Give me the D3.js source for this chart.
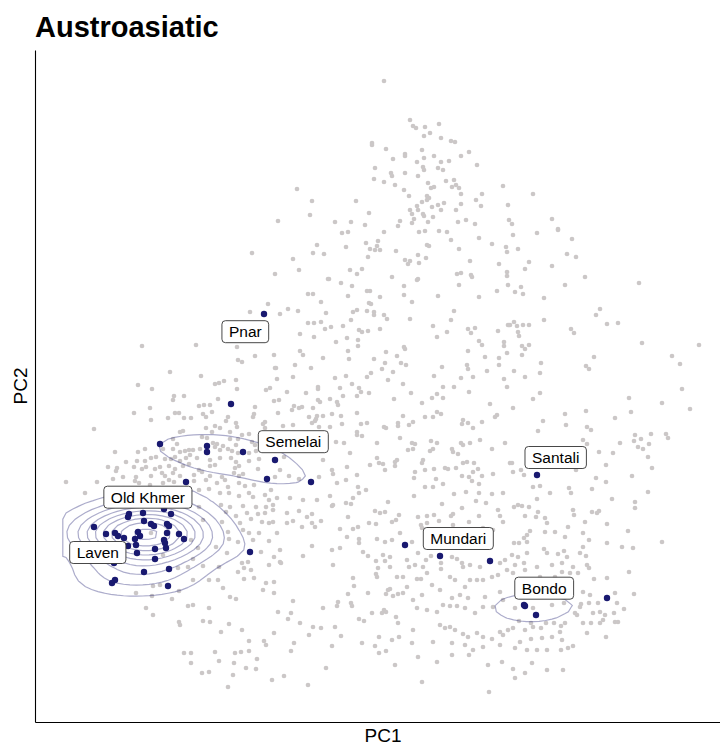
<!DOCTYPE html>
<html><head><meta charset="utf-8">
<script src="https://cdn.jsdelivr.net/npm/d3@7"></script>
<style>body{margin:0;background:#fff}svg{display:block}text{font-family:"Liberation Sans",Arial,Helvetica,sans-serif}</style>
</head><body><div id="chart"></div>
<script>
// ---------- data (PC1, PC2 in arbitrary units) ----------
const chartTitle = "Austroasiatic";
const xTitle = "PC1", yTitle = "PC2";
const pc1Domain = [0, 696];
const pc2Domain = [0, 672];

// other languages (grey background points)
const background = [
[349,641],[375,602],[378,596],[381,594],[390,595],[404,598],[389,586],[395,589],[406,584],[416,581],[420,580],[337,579],[337,577],[351,573],[387,572],[370,568],[370,566],[399,566],[389,564],[358,563],[382,560],[406,560],[414,561],[426,566],[434,570],[442,557],[340,554],[388,555],[389,552],[403,554],[408,552],[356,549],[357,546],[370,549],[383,546],[339,543],[349,540],[360,537],[393,539],[411,541],[419,542],[417,535],[421,537],[424,534],[396,534],[399,535],[369,532],[262,533],[468,536],[426,528],[374,526],[392,526],[392,522],[394,524],[387,520],[447,528],[441,522],[446,516],[277,521],[321,521],[382,516],[383,512],[375,512],[397,515],[403,517],[409,519],[426,518],[421,512],[406,512],[377,508],[388,508],[389,506],[398,505],[379,503],[377,499],[393,500],[275,507],[334,509],[243,501],[300,500],[316,500],[330,497],[365,501],[363,496],[423,500],[431,502],[440,498],[473,517],[474,502],[307,489],[313,490],[349,490],[384,490],[390,491],[404,491],[412,490],[444,484],[416,482],[282,477],[311,475],[331,479],[343,481],[392,477],[394,476],[457,478],[471,475],[472,470],[335,473],[340,472],[342,476],[345,472],[361,471],[424,473],[278,469],[289,468],[333,465],[383,467],[391,464],[258,463],[370,462],[375,461],[373,458],[384,459],[435,461],[464,458],[264,452],[315,452],[327,453],[322,448],[240,448],[357,445],[294,443],[383,443],[422,448],[426,449],[436,447],[437,445],[472,450],[472,446],
[498,528],[517,503],[523,493],[477,498],[217,469],
[233,418],[215,410],[107,376],[161,377],[202,375],[203,362],[207,360],[220,366],[239,367],[240,354],[135,350],[166,346],[103,337],[117,333],[180,338],[184,339],[189,341],[201,342],[202,333],[231,332],[235,334],[139,326],[149,326],[138,322],[183,323],[239,321],[99,309],[115,314],[164,316],[169,317],[175,317],[168,308],[171,305],[177,310],[140,309],[144,309],[133,304],[149,304],[156,304],[193,305],[191,301],[201,299],[220,315],[219,308],[218,305],[230,300],[228,298],[116,302],[59,293],[145,290],[148,291],[171,294],[180,296],[185,294],[202,295],[230,294],[177,290],[195,290],[207,287],[214,288],[138,283],[142,278],[167,285],[172,284],[178,279],[182,278],[195,283],[201,277],[203,283],[217,280],[220,277],[80,270],[103,270],[110,273],[128,273],[138,273],[145,270],[150,271],[154,272],[158,272],[165,273],[180,275],[185,272],[188,276],[193,273],[197,271],[203,269],[214,269],[221,271],[91,260],[102,261],[110,261],[116,264],[121,265],[130,263],[136,263],[140,265],[145,261],[151,264],[155,267],[162,264],[175,262],[180,257],[185,264],[196,264],[201,260],[214,261],[224,263],[73,255],[82,254],[81,251],[99,255],[107,253],[111,255],[120,253],[125,255],[134,256],[140,253],[148,256],[154,258],[164,252],[175,256],[200,254],[204,256],[223,253],[88,245],[101,245],[116,246],[127,249],[130,246],[138,249],[145,246],[159,247],[167,250],[175,246],[187,245],[199,249],[204,246],[208,248],[31,240],[62,240],[78,243],[100,241],[104,239],[115,237],[128,239],[134,242],[139,240],[159,241],[171,242],[182,239],[190,242],[204,239],[219,237],[240,245],
[50,229],[164,232],[174,233],[193,235],[210,236],[185,229],[194,229],[204,226],[214,229],[218,225],[230,227],[236,232],[234,222],[186,217],[195,215],[208,216],[221,215],[231,215],[238,217],[191,210],[201,206],[212,209],[223,208],[230,209],[187,200],[205,199],[216,203],[227,200],[234,199],[193,190],[208,192],[214,189],[224,189],[194,183],[203,180],[218,182],[234,181],[192,169],[207,159],[213,160],[226,170],[234,157],[239,165],[209,154],[203,150],[216,152],[219,144],[231,139],[209,143],[183,142],[188,134],[195,125],[201,123],[228,132],[239,140],[239,129],[117,126],[137,123],[111,114],[118,107],[153,116],[158,117],[174,114],[144,100],[145,97],[168,101],[175,100],[194,98],[207,92],[186,90],[214,81],[229,81],[231,77],[239,89],[149,69],[156,69],[156,59],[180,70],[200,69],[206,70],[214,71],[222,63],[184,61],[199,59],[167,49],[174,50],[198,47],[211,54],[221,53],[116,189],[128,167],[143,154],[153,155],[158,163],[168,156],[163,174],[156,182],[168,202],[164,215],[118,136],[125,137],[144,131],[158,142],[101,129],[174,142],[181,175],[184,155],
[245,160],[246,159],[298,157],[341,161],[350,161],[343,154],[355,155],[362,145],[341,148],[342,145],[318,144],[319,136],[313,128],[333,129],[351,128],[353,132],[355,133],[358,126],[363,128],[258,121],[303,120],[302,116],[316,119],[317,116],[288,114],[243,110],[256,109],[253,103],[265,99],[278,95],[286,94],[300,95],[306,86],[274,87],[259,79],[256,71],[297,76],[291,54],[273,37],[249,46],[324,103],[329,101],[337,109],[347,109],[349,112],[351,110],[361,105],[363,99],[344,85],[357,82],[364,85],[327,79],[340,76],[344,69],[351,71],[360,57],[193,35],[237,42],
[382,442],[293,443],[306,439],[317,436],[369,436],[424,437],[273,428],[278,428],[335,431],[332,431],[345,425],[369,427],[403,426],[444,425],[462,431],[473,437],[286,420],[313,426],[334,419],[336,418],[377,420],[253,413],[245,408],[263,411],[291,409],[318,410],[322,412],[332,411],[339,410],[339,407],[349,407],[352,403],[419,411],[416,402],[375,403],[316,402],[273,399],[279,399],[286,400],[290,393],[296,395],[308,396],[324,392],[327,390],[333,391],[345,393],[398,396],[412,390],[433,393],[436,389],[440,394],[463,391],[473,397],[265,388],[279,385],[301,380],[312,384],[323,382],[323,376],[402,385],[444,381],[447,377],[469,380],[469,376],[433,371],[450,365],[464,364],[464,357],[472,369],[265,371],[268,367],[313,371],[351,370],[369,375],[370,373],[362,366],[366,359],[371,357],[288,364],[314,363],[339,363],[350,359],[241,354],[260,357],[276,354],[347,353],[358,350],[407,355],[432,357],[433,353],[452,351],[242,343],[258,345],[300,344],[311,346],[332,345],[336,349],[353,342],[399,346],[426,344],[438,345],[469,343],[472,335],[252,330],[271,329],[283,335],[283,333],[305,334],[317,338],[324,334],[326,330],[334,329],[308,326],[322,326],[368,338],[376,329],[402,328],[408,335],[419,335],[408,324],[397,324],[434,330],[244,322],[259,316],[264,314],[267,315],[278,314],[283,322],[285,320],[295,323],[302,320],[303,317],[359,323],[387,319],[455,318],[243,309],[257,312],[274,305],[281,303],[282,306],[280,301],[288,306],[297,308],[306,306],[322,309],[368,306],[390,305],[398,305],[402,310],[406,308],[428,302],[433,299],[438,294],[427,298],[447,300],[460,305],[462,307],[248,296],[258,297],[277,299],[284,295],[295,295],[307,298],[326,298],[332,299],[349,295],[351,294],[363,299],[363,296],[374,297],[378,300],[322,290],[322,287],[327,286],[301,280],[309,279],[342,279],[365,284],[377,279],[380,278],[396,281],[402,279],[417,273],[426,279],[428,277],[435,279],[445,282],[457,273],[470,279],[373,272],[378,273],[388,262],[387,259],[395,271],[398,273],[418,270],[423,268],[315,269],[342,264],[344,259],[348,258],[360,260],[362,262],[312,255],[335,257],[350,252],[360,256],[380,250],[390,252],[399,253],[410,254],[413,253],[421,254],[428,259],[432,260],[439,259],[438,250],[443,253],[458,248],[475,259],[288,262],[297,252],[298,248],[284,245],[302,239],[311,242],[322,247],[323,235],[379,244],[401,243],[427,246],[434,245],[437,241],[447,246],[444,238],[390,235],[398,235],[408,238],[249,265],[245,252],[254,246],[264,243],
[379,226],[419,228],[431,230],[444,229],[457,228],[468,229],[441,221],[451,219],[463,212],[242,224],[255,224],[268,222],[282,222],[295,226],[318,224],[324,229],[331,232],[353,220],[407,218],[427,214],[238,212],[252,209],[264,211],[277,208],[297,216],[298,217],[311,219],[316,218],[340,211],[345,209],[350,210],[357,200],[361,202],[364,207],[383,205],[392,206],[399,207],[404,201],[416,206],[418,208],[434,200],[444,206],[465,206],[468,200],[238,200],[252,199],[258,201],[272,205],[277,199],[286,201],[313,205],[334,199],[341,198],[242,189],[267,195],[280,195],[305,193],[318,193],[323,195],[312,185],[324,183],[342,183],[350,180],[357,182],[365,189],[377,180],[386,197],[387,194],[392,199],[402,192],[418,197],[422,192],[435,192],[448,194],[458,192],[245,172],[268,166],[277,176],[297,172],[305,174],[324,179],[328,170],[333,166],[348,167],[355,165],[372,162],[383,169],[391,162],[396,166],[417,165],[422,163],[427,159],[428,155],[435,157],[445,155],[465,159],[470,162],[472,152],[457,145],[463,147],[448,142],[442,142],[435,142],[430,135],[420,142],[415,145],[406,153],[406,159],[392,149],[386,143],[382,143],[388,155],[380,157],[374,155],[368,145],[397,137],[405,132],[425,127],[417,124],[433,124],[450,125],[465,130],[468,122],[458,115],[448,115],[440,109],[430,114],[422,116],[415,116],[408,117],[402,110],[392,112],[382,114],[378,122],[387,127],[368,129],[372,135],[405,97],[410,94],[415,95],[420,92],[428,88],[433,85],[442,89],[448,85],[457,83],[465,90],[468,87],[473,92],[417,79],[430,77],[438,72],[448,75],[465,77],[467,60],[453,57],[434,67],[417,67],[402,60],[398,80],[383,65],[377,79],[378,92],[387,40],[454,30],
[478,487],[502,489],[523,492],[537,483],[483,473],[532,468],[541,465],[494,460],[490,453],[517,456],[550,445],[486,435],[480,430],[488,428],[530,437],[509,424],[604,439],[565,413],[561,407],[572,398],[583,399],[479,400],[475,397],[482,396],[488,397],[494,397],[509,402],[483,390],[484,386],[536,393],[539,389],[487,376],[490,373],[494,377],[487,367],[607,379],[664,377],[637,366],[645,358],[559,365],[551,356],[554,353],[506,359],[505,349],[479,351],[490,345],[647,333],[498,323],[505,329],[594,324],[627,319],[655,313],[596,310],[478,314],[530,308],[551,311],[580,304],[508,301],[531,297],[503,291],[552,295],[556,292],[548,282],[552,278],[585,279],[600,287],[599,281],[606,283],[616,288],[631,288],[633,284],[614,278],[603,275],[608,273],
[478,250],[477,259],[486,252],[489,247],[498,235],[505,236],[515,229],[534,234],[536,229],[541,252],[564,270],[578,269],[613,265],[617,254],[571,257],[561,244],[571,240],[597,246],[613,230],[557,233],[577,223],[600,220],[600,214],[479,215],[483,217],[487,216],[494,215],[502,223],[503,210],[490,206],[501,205],[510,204],[512,199],[538,212],[539,207],[557,210],[562,209],[564,211],[550,200],[572,198],[593,191],[627,180],[598,174],[587,175],[572,179],[554,182],[548,189],[533,195],[530,185],[520,190],[510,190],[495,191],[492,187],[489,184],[479,179],[484,179],[492,180],[509,173],[512,169],[523,168],[529,171],[532,165],[527,159],[545,169],[551,166],[548,175],[477,167],[483,165],[492,169],[480,157],[489,159],[502,155],[517,157],[538,155],[552,157],[554,154],[535,149],[543,149],[559,143],[572,144],[594,150],[599,128],[580,129],[582,119],[589,113],[478,149],[488,142],[490,152],[505,145],[520,145],[527,150],[548,130],[555,127],[563,119],[546,118],[554,119],[540,109],[542,107],[545,115],[529,119],[517,117],[498,114],[480,114],[558,109],[565,110],[570,107],[579,109],[580,100],[583,100],[568,102],[565,99],[548,99],[556,99],[530,99],[526,96],[519,99],[511,99],[496,99],[484,101],[478,94],[490,92],[498,95],[506,94],[525,90],[527,82],[517,85],[507,84],[496,83],[485,80],[480,74],[492,72],[502,72],[512,72],[526,72],[533,74],[538,76],[552,89],[571,85],[497,59],[512,52],[528,52],[490,49],[478,53],[480,44]
];

// Austroasiatic languages (highlighted points; the larger Bondo dot is two overlapping points)
const family = [
[229,408],[196,318],[125,278],[172,276],[172,270],[208,270],[240,262],[232,243],[276,240],[151,240],
[129,213],[94,208],[93,205],[108,209],[136,208],[109,201],[116,198],[119,196],[132,198],[134,196],[59,195],[71,188],[80,189],[83,186],[89,184],[103,190],[105,186],[100,183],[132,189],[144,188],[149,183],[129,182],[130,179],[131,174],[101,177],[93,176],[102,169],[120,173],[120,163],[79,159],[109,150],[134,153],[80,142],[77,139],[133,136],
[215,170],[370,177],[405,166],[455,161],[502,247],[490,116],[489,117],[501,107],[572,124]
];

// labelled languages and where their labels sit
const labelNames = ["Pnar","Semelai","Old Khmer","Laven","Santali","Mundari","Bondo"];
const labelPC1   = [210.3, 258.3, 112.9, 62.8, 520.7, 423.3, 509.2];
const labelPC2   = [390.3, 280.3, 224.8, 169.5, 264.5, 183.5, 133.8];

// ---------- drawing ----------
const W = 720, H = 746;
const svg = d3.select("#chart").append("svg").attr("width", W).attr("height", H);
svg.append("rect").attr("width", W).attr("height", H).attr("fill", "#fff");

const x = d3.scaleLinear().domain(pc1Domain).range([35, 731]);
const y = d3.scaleLinear().domain(pc2Domain).range([722, 50]);

// grey points
svg.append("g").selectAll("circle").data(background).join("circle")
  .attr("cx", d => x(d[0])).attr("cy", d => y(d[1])).attr("r", 2.35)
  .attr("fill", "#cbc7c7");

// 2D kernel density (MASS::kde2d style, bandwidth.nrd) of the family points
const all = background.concat(family);
const xr = d3.extent(all, d => d[0]), yr = d3.extent(all, d => d[1]);
const n = 100;
function bwNrd(v) {
  const s = d3.deviation(v);
  const iqr = d3.quantile(v, 0.75) - d3.quantile(v, 0.25);
  return 4 * 1.06 * Math.min(s, iqr / 1.34) * Math.pow(v.length, -0.2);
}
const fx = family.map(d => d[0]), fy = family.map(d => d[1]);
const hx = bwNrd(fx) / 4, hy = bwNrd(fy) / 4;
const dxs = (xr[1] - xr[0]) / (n - 1), dys = (yr[1] - yr[0]) / (n - 1);
const dn = t => Math.exp(-0.5 * t * t) / Math.sqrt(2 * Math.PI);
const z = new Array(n * n).fill(0);
for (let j = 0; j < n; j++) {
  const gy = yr[0] + j * dys;
  for (let i = 0; i < n; i++) {
    const gx = xr[0] + i * dxs;
    let s = 0;
    for (let k = 0; k < family.length; k++) s += dn((gx - fx[k]) / hx) * dn((gy - fy[k]) / hy);
    z[i + j * n] = s / (family.length * hx * hy);
  }
}
// evenly spaced contour levels (nine rings up to the peak)
const zmax = d3.max(z);
const step = zmax * 0.108;
const breaks = d3.range(1, 10).map(k => k * step).filter(b => b < zmax);
const contours = d3.contours().size([n, n]).thresholds(breaks)(z);
const proj = d3.geoTransform({ point: function (px, py) {
  this.stream.point(x(xr[0] + (px - 0.5) * dxs), y(yr[0] + (py - 0.5) * dys));
}});
svg.append("g").selectAll("path").data(contours).join("path")
  .attr("d", d3.geoPath(proj)).attr("fill", "none")
  .attr("stroke", "#191970").attr("stroke-opacity", 0.36).attr("stroke-width", 1.2);

// family points
svg.append("g").selectAll("circle").data(family).join("circle")
  .attr("cx", d => x(d[0])).attr("cy", d => y(d[1])).attr("r", 3.2)
  .attr("fill", "#191970");

// labels
const lg = svg.append("g");
labelNames.forEach((name, i) => {
  const g = lg.append("g").attr("transform", `translate(${x(labelPC1[i])},${y(labelPC2[i])})`);
  const r = g.append("rect");
  const t = g.append("text").text(name).attr("text-anchor", "middle").attr("dy", "0.36em")
    .attr("font-size", 15.5).attr("fill", "#000");
  const w = t.node().getComputedTextLength() + 14;
  r.attr("x", -w / 2).attr("y", -11).attr("width", w).attr("height", 22).attr("rx", 3.5)
    .attr("fill", "#fff").attr("stroke", "#333").attr("stroke-width", 0.9);
});

// axes (lines only)
svg.append("g").attr("transform", "translate(0,722)")
  .call(d3.axisBottom(x).ticks(0).tickSizeOuter(0))
  .call(g => g.select(".domain").attr("stroke", "#000").attr("stroke-width", 1.1));
svg.append("g").attr("transform", "translate(35,0)")
  .call(d3.axisLeft(y).ticks(0).tickSizeOuter(0))
  .call(g => g.select(".domain").attr("stroke", "#000").attr("stroke-width", 1.1));

// titles
svg.append("text").attr("x", 35).attr("y", 37).text(chartTitle)
  .attr("font-size", 29).attr("font-weight", "bold").attr("fill", "#000");
svg.append("text").attr("x", (x.range()[0] + x.range()[1]) / 2).attr("y", 742)
  .attr("text-anchor", "middle").attr("font-size", 19).text(xTitle);
svg.append("text").attr("transform", `translate(27,${(y.range()[0] + y.range()[1]) / 2}) rotate(-90)`)
  .attr("text-anchor", "middle").attr("font-size", 19).text(yTitle);
</script>
</body></html>
